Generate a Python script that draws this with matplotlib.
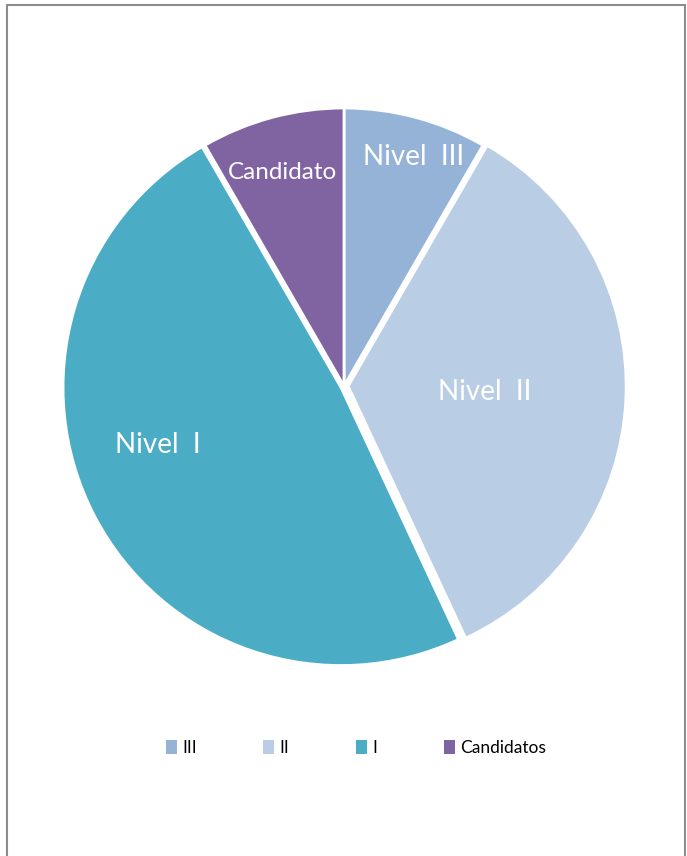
import numpy as np
import matplotlib.pyplot as plt
from matplotlib.patches import Rectangle, Patch

# Data
labels = ['Nivel  III', 'Nivel  II', 'Nivel  I', 'Candidato']
legend_labels = ['III', 'II', 'I', 'Candidatos']
values = [6, 25, 35, 6]
colors = ['#95B3D7', '#B9CDE5', '#4BACC6', '#8064A2']
explode = [0.0, 0.015, 0.012, 0.0]

W, H = 687, 856
cx, cy, R = 344, 386, 278  # pie centre and radius in pixels

fig = plt.figure(figsize=(W / 100, H / 100), dpi=100)
fig.patch.set_facecolor('white')

# outer chart frame
fig.patches.append(Rectangle((7 / W, -0.01), 678 / W, 1 - 5 / H + 0.01,
                             transform=fig.transFigure, fill=False,
                             edgecolor='#8c8c8c', linewidth=1.5))

ax = fig.add_axes([0, 0, 1, 1])
wedges, _ = ax.pie(values, colors=colors, startangle=90, counterclock=False,
                   explode=explode, radius=1,
                   wedgeprops=dict(edgecolor='white', linewidth=2))
ax.set_aspect('auto')
ax.set_xlim(-cx / R, (W - cx) / R)
ax.set_ylim((cy - H) / R, cy / R)
ax.axis('off')

# labels inside slices
dist = [0.86, 0.49, 0.69, 0.80]
shift = [2, 0, 10, -1]  # degrees, fine tuning of label angle
sizes = [20, 20, 20, 17.5]
for w, lab, d, s, fs in zip(wedges, labels, dist, shift, sizes):
    ang = np.deg2rad((w.theta1 + w.theta2) / 2 - s)
    x = w.center[0] + d * np.cos(ang)
    y = w.center[1] + d * np.sin(ang)
    ax.text(x, y, lab, ha='center', va='center', color='white',
            fontsize=fs, family='Lato')

# legend, one slot per entry
leg_x = [166, 263, 356, 444]
for x, lab, c in zip(leg_x, legend_labels, colors):
    fig.legend([Patch(facecolor=c, edgecolor='none')], [lab],
               loc='center left', bbox_to_anchor=(x / W, 1 - 748 / H),
               frameon=False, borderpad=0, borderaxespad=0,
               handlelength=0.65, handleheight=0.8, handletextpad=0.3,
               prop=dict(family='Lato', size=12.5))

fig.savefig('out.png', dpi=100)
